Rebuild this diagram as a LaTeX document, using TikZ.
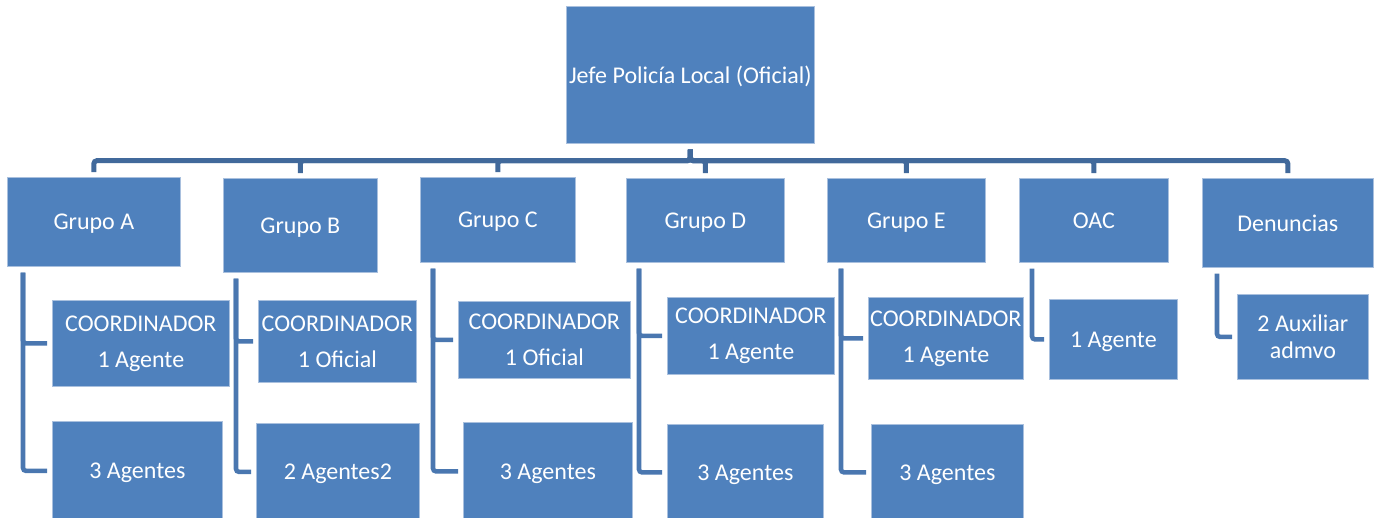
\documentclass[tikz,border=0pt]{standalone}
\usepackage{fontspec}
\setmainfont{Carlito}
\usetikzlibrary{calc}
\definecolor{boxfill}{HTML}{4F81BD}
\definecolor{boxedge}{HTML}{A9C0DE}
\definecolor{topline}{HTML}{41699B}
\definecolor{subline}{HTML}{4A77B0}
\tikzset{
  orgbox/.style={rectangle, fill=boxfill, draw=boxedge, line width=0.7pt, inner sep=0pt,
    text=white, align=center, font=\fontsize{24}{36}\selectfont},
  oneline/.style={text depth=0pt},
  topconn/.style={draw=topline, line width=5pt, rounded corners=3pt, shorten <=6pt, shorten >=5pt},
  subconn/.style={draw=subline, line width=4.6pt, rounded corners=3pt, shorten <=6pt, shorten >=5pt},
}
\newcommand\orgbx[7][]{\node[orgbox,#1,anchor=north west,minimum width={(#5-#3)*1pt},minimum height={(#6-#4)*1pt}] (#2) at (#3,#4) {#7};}
\begin{document}
\begin{tikzpicture}[x=1pt,y=-1pt]
\useasboundingbox (0,0) rectangle (1378,517);
% top
\orgbx[oneline]{top}{566}{6}{814}{143}{Jefe Policía Local (Oficial)}
% groups
\orgbx[oneline]{gA}{7}{177}{180}{266}{Grupo A}
\orgbx[oneline]{gB}{223}{178}{377}{272}{Grupo B}
\orgbx[oneline]{gC}{420}{177}{575}{262}{Grupo C}
\orgbx[oneline]{gD}{626}{178}{784}{262}{Grupo D}
\orgbx[oneline]{gE}{827}{178}{985}{262}{Grupo E}
\orgbx[oneline]{gO}{1019}{178}{1168}{262}{OAC}
\orgbx[oneline]{gN}{1202}{178}{1373}{267}{Denuncias}
% sub boxes
\orgbx{cA}{52}{300}{229}{386}{COORDINADOR\\1 Agente}
\orgbx[oneline]{aA}{52}{421}{222}{520}{3 Agentes}
\orgbx{cB}{258}{300}{416}{382}{COORDINADOR\\1 Oficial}
\orgbx[oneline]{aB}{256}{423}{419}{520}{2 Agentes2}
\orgbx{cC}{458}{301}{630}{378}{COORDINADOR\\1 Oficial}
\orgbx[oneline]{aC}{463}{422}{632}{520}{3 Agentes}
\orgbx{cD}{667}{297}{834}{374}{COORDINADOR\\1 Agente}
\orgbx[oneline]{aD}{667}{424}{823}{520}{3 Agentes}
\orgbx{cE}{868}{297}{1023}{379}{COORDINADOR\\1 Agente}
\orgbx[oneline]{aE}{871}{424}{1023}{520}{3 Agentes}
\orgbx[oneline]{oA}{1049}{299}{1177}{379}{1 Agente}
\orgbx[font=\fontsize{24}{27}\selectfont]{nA}{1237}{294}{1368}{379}{2 Auxiliar\\admvo}
% top-level connectors
\foreach \g in {gA,gB,gC,gD,gE,gO,gN}{
  \draw[topconn] (top.south) -- ++(0,17) -| (\g.north);
}
% sub connectors
\draw[subconn] ($(gA.south west)+(16,0)$) |- (cA.west);
\draw[subconn] ($(gA.south west)+(16,0)$) |- (aA.west);
\draw[subconn] ($(gB.south west)+(13,0)$) |- (cB.west);
\draw[subconn] ($(gB.south west)+(13,0)$) |- (aB.west);
\draw[subconn] ($(gC.south west)+(13,0)$) |- (cC.west);
\draw[subconn] ($(gC.south west)+(13,0)$) |- (aC.west);
\draw[subconn] ($(gD.south west)+(13,0)$) |- (cD.west);
\draw[subconn] ($(gD.south west)+(13,0)$) |- (aD.west);
\draw[subconn] ($(gE.south west)+(14,0)$) |- (cE.west);
\draw[subconn] ($(gE.south west)+(14,0)$) |- (aE.west);
\draw[subconn] ($(gO.south west)+(13,0)$) |- (oA.west);
\draw[subconn] ($(gN.south west)+(15,0)$) |- (nA.west);
\end{tikzpicture}
\end{document}
